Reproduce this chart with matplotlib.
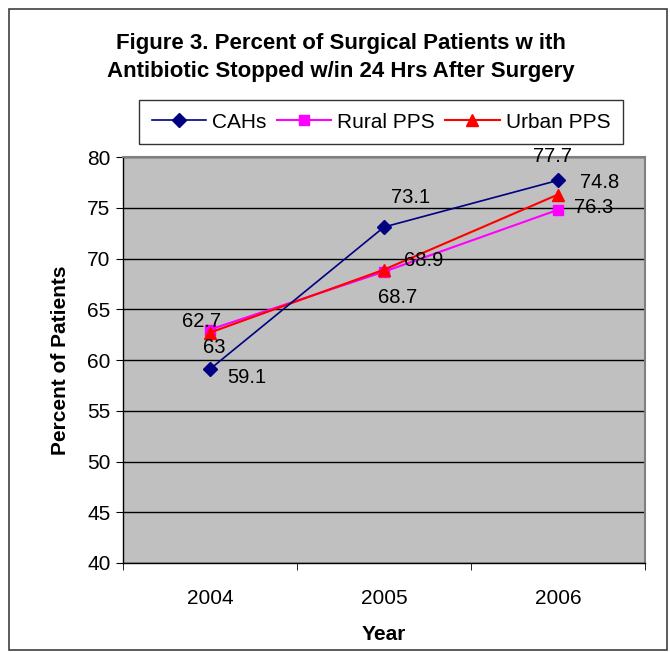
import matplotlib
matplotlib.use("Agg")
import matplotlib.pyplot as plt
from matplotlib.patches import Rectangle

years = ["2004", "2005", "2006"]
cahs = [59.1, 73.1, 77.7]
rural = [63.0, 68.7, 74.8]
urban = [62.7, 68.9, 76.3]
yticks = [40, 45, 50, 55, 60, 65, 70, 75, 80]

plt.rcParams['font.family'] = ['Liberation Sans', 'DejaVu Sans']

fig = plt.figure(figsize=(6.7, 6.52), dpi=100)
ax = fig.add_axes([123/670, 1-563/652, (645-123)/670, (563-157)/652])
ax.set_facecolor('#C0C0C0')

x = list(range(len(years)))
ax.plot(x, cahs, color='#000080', lw=1.2, marker='D', ms=7, label='CAHs', zorder=4)
ax.plot(x, rural, color='#FF00FF', lw=1.5, marker='s', ms=7, label='Rural PPS', zorder=3)
ax.plot(x, urban, color='#FF0000', lw=1.5, marker='^', ms=9, label='Urban PPS', zorder=3)

ax.set_xlim(-0.5, 2.5)
ax.set_ylim(40, 80)
ax.set_yticks(yticks)
ax.set_xticks(x)
ax.set_xticklabels(years)
ax.set_xticks([-0.5, 0.5, 1.5, 2.5], minor=True)
ax.tick_params(axis='x', which='major', length=0, labelsize=15, pad=19)
ax.tick_params(axis='x', which='minor', length=5, direction='out', color='black')
ax.tick_params(axis='y', length=5, direction='out', labelsize=15, pad=4)
ax.yaxis.grid(True, color='black', lw=1)
ax.set_axisbelow(True)
for s in ['top', 'right']:
    ax.spines[s].set_color('#808080')
    ax.spines[s].set_linewidth(1.5)
for s in ['left', 'bottom']:
    ax.spines[s].set_color('black')
    ax.spines[s].set_linewidth(1)

ax.set_ylabel('Percent of Patients', fontsize=15, fontweight='bold', labelpad=12)
ax.set_xlabel('Year', fontsize=15, fontweight='bold', labelpad=12)

def fmt(v):
    return ('%g' % v)

cah_off = [(37, -8), (27, 30), (-5, 24)]
rural_off = [(4, -18), (14, -26), (42, 27)]
urban_off = [(-8, 11), (40, 9), (36, -13)]
for series, offs in [(cahs, cah_off), (rural, rural_off), (urban, urban_off)]:
    for i, v in enumerate(series):
        ax.annotate(fmt(v), (x[i], v), xytext=offs[i], textcoords='offset pixels',
                    ha='center', va='center', fontsize=14.5, color='black', zorder=5)

fig.text(341/670, 1-43/652, 'Figure 3. Percent of Surgical Patients w ith',
         ha='center', va='center', fontsize=16, fontweight='bold')
fig.text(341/670, 1-72/652, 'Antibiotic Stopped w/in 24 Hrs After Surgery',
         ha='center', va='center', fontsize=16, fontweight='bold')

leg = fig.legend(loc='center', bbox_to_anchor=(381/670, 1-122/652), ncol=3,
                 fontsize=15, frameon=True, fancybox=False, shadow=False,
                 handlelength=2.6, handletextpad=0.3, columnspacing=0.5,
                 borderpad=0.6, edgecolor='black', borderaxespad=0)
leg.get_frame().set_linewidth(1)
leg.get_frame().set_facecolor('white')

fig.patches.append(Rectangle((9/670, 1-650/652), (667-9)/670, (650-9)/652,
                             transform=fig.transFigure, fill=False,
                             edgecolor='#404040', lw=1.2))

fig.savefig('out.png', dpi=100)
